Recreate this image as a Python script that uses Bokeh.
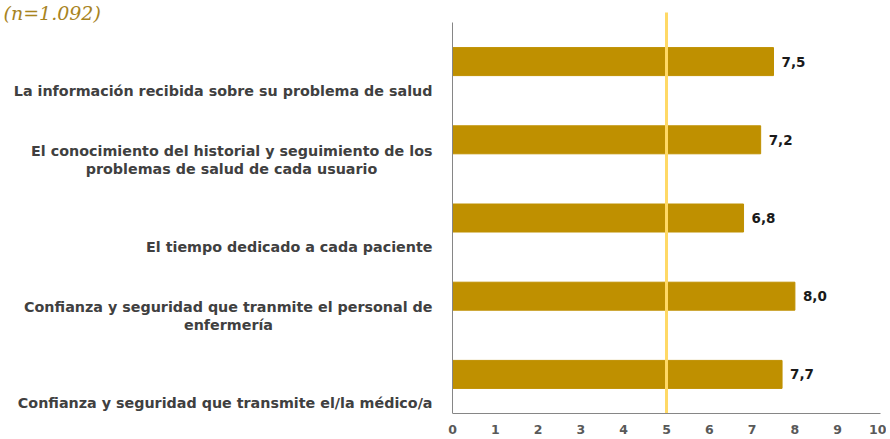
from bokeh.plotting import figure
from bokeh.models import Range1d, FixedTicker, ColumnDataSource
from bokeh.core.properties import value
from bokeh.embed import file_html
from bokeh.resources import INLINE

# ---------------- data ----------------
label_lines = [
    ["La información recibida sobre su problema de salud"],
    ["El conocimiento del historial y seguimiento de los", "problemas de salud de cada usuario"],
    ["El tiempo dedicado a cada paciente"],
    ["Confianza y seguridad que tranmite el personal de", "enfermería"],
    ["Confianza y seguridad que transmite el/la médico/a"],
]
values = [7.5, 7.2, 6.8, 8.0, 7.7]
value_labels = ["7,5", "7,2", "6,8", "8,0", "7,7"]
x_ticks = [0, 1, 2, 3, 4, 5, 6, 7, 8, 9, 10]
threshold = 5
subtitle = "(n=1.092)"

# ---------------- layout ----------------
W, H = 886, 438
BORDER_R, BORDER_B = 6, 25
frame_w = W - BORDER_R          # 880
frame_h = H - BORDER_B          # 413
PXU_X = 42.8
X_END = 10
X_START = X_END - frame_w / PXU_X
PXU_Y = 78.2
Y_END = frame_h / PXU_Y

def xpx(px):
    return X_START + px / PXU_X

def ypx(dy_px):
    return dy_px / PXU_Y

n = len(values)
ycent = [n - 1 - i + 0.5 for i in range(n)]

GOLD = "#BF9000"

p = figure(width=W, height=H, x_range=Range1d(X_START, X_END), y_range=Range1d(0, Y_END),
           toolbar_location=None, output_backend="svg", y_axis_location=None,
           min_border_left=0, min_border_top=0, min_border_right=BORDER_R,
           min_border_bottom=BORDER_B)
p.outline_line_color = None
p.xgrid.visible = False
p.ygrid.visible = False
p.background_fill_color = "white"

# bars
src = ColumnDataSource(dict(y=ycent, v=values, lab=value_labels))
p.hbar(y="y", right="v", left=0, height=ypx(28), source=src, fill_color=GOLD, line_color=GOLD)

# value labels
p.text(x="v", y="y", text="lab", source=src, x_offset=8, text_align="left",
       text_baseline="middle", text_font=value("DejaVu Sans"), text_font_style="bold",
       text_font_size="13.5px", text_color="#1a1a1a")

# threshold line
p.segment(x0=[threshold], y0=[0], x1=[threshold], y1=[Y_END - ypx(12)],
          line_color="#FFD966", line_width=3)

# left axis line at x=0
p.segment(x0=[0], y0=[0], x1=[0], y1=[n], line_color="#868686", line_width=1)

# category labels
centers_px = [222, 231, 290, 228, 222]
first_x, first_y, first_t = [], [], []
cont_x, cont_y, cont_t = [], [], []
for i, lines in enumerate(label_lines):
    k = len(lines)
    for j, line in enumerate(lines):
        from_bottom = k - 1 - j
        yy = ycent[i] - ypx(29 - 18 * from_bottom)
        if j == 0:
            first_x.append(xpx(432)); first_y.append(yy); first_t.append(line)
        else:
            cont_x.append(xpx(centers_px[i])); cont_y.append(yy); cont_t.append(line)

common = dict(text_font=value("DejaVu Sans"), text_font_style="bold",
              text_font_size="14.3px", text_color="#404040", text_baseline="middle")
p.text(x=first_x, y=first_y, text=first_t, text_align="right", **common)
p.text(x=cont_x, y=cont_y, text=cont_t, text_align="center", **common)

# subtitle
p.text(x=[xpx(3)], y=[Y_END - ypx(1)], text=[subtitle], text_align="left",
       text_baseline="top",
       text_font=value("DejaVu Serif"), text_font_style="italic", text_font_size="19px",
       text_color="#A8841E")

# x axis
ax = p.xaxis[0]
ax.ticker = FixedTicker(ticks=x_ticks)
ax.bounds = (0, 10)
ax.axis_line_color = "#868686"
ax.major_tick_line_color = None
ax.minor_tick_line_color = None
ax.major_tick_out = 0
ax.major_label_standoff = 11
ax.major_label_text_font = "DejaVu Sans"
ax.major_label_text_font_style = "bold"
ax.major_label_text_font_size = "12.5px"
ax.major_label_text_color = "#595959"

open("out.html", "w").write(file_html(p, INLINE))
